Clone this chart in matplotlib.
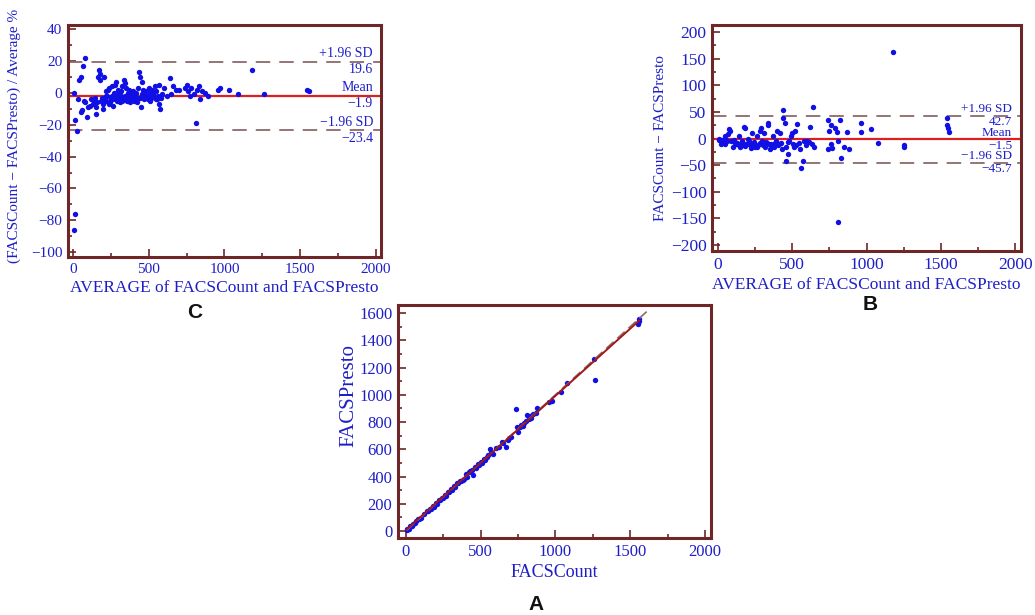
import numpy as np
import matplotlib
matplotlib.use("Agg")
import matplotlib.pyplot as plt
from matplotlib.ticker import MultipleLocator

# ---- panel C: percent difference vs average ----
c_avg = [5, 8, 15, 12, 25, 30, 40, 50, 55, 60, 65, 70, 77, 80, 90, 100, 110, 120, 140, 150,
         155, 160, 165, 170, 175, 180, 190, 195, 200, 205, 210, 215, 220, 225, 230, 235, 240, 245, 250, 255,
         260, 265, 270, 275, 280, 285, 290, 295, 300, 305, 310, 315, 320, 325, 330, 335, 340, 345, 350, 355,
         360, 365, 370, 375, 380, 390, 395, 400, 410, 415, 420, 430, 435, 440, 445, 450, 455, 460, 465, 470,
         480, 490, 500, 505, 510, 515, 520, 530, 540, 545, 550, 560, 565, 570, 575, 580, 590, 600, 620, 640,
         650, 660, 680, 700, 740, 750, 760, 770, 780, 800, 810, 820, 830, 840, 850, 870, 890, 960, 970, 1030,
         1090, 1180, 1260, 1545, 1555, 135, 145, 185, 215, 245, 265, 285, 305, 325, 345, 365, 385, 405, 425, 455,
         475, 495, 515, 535, 555]
c_pct = [0, -86, -76, -17, -24, -4, 8, -12, 10, -11, 17, -5, 22, -6, -15, -9, -8, -4, -6, -9,
         -13, -6, 10, 14, 8, 12, -3, -7, -10, 10, -4, 1, -5, -2, 2, -7, 3, -5, -3, 4,
         -2, -8, 0, 5, -3, 7, -5, -1, 2, -4, -6, 1, -2, 4, -4, 8, 6, -3, 3, -5,
         0, -2, 2, -6, -1, -3, 1, -4, -2, 0, -6, 3, 13, 10, -3, -9, 7, -1, 2, -4,
         1, -2, 3, -5, 0, -3, 2, -1, 4, -4, 1, -2, 5, -7, -10, -3, -1, 3, -2, 9,
         -1, 4, 2, 2, 3, 5, 1, -2, 3, -1, -19, 2, 4, -4, 1, 0, -2, 2, 3, 2,
         -1, 14, -1, 2, 1, -7, -3, -5, -2, -6, -4, -1, -3, -5, -2, -4, -2, -5, -3, -1,
         -2, -4, -3, -2, -4]
c_mean, c_hi, c_lo = -1.9, 19.6, -23.4

# ---- panel B: absolute difference vs average ----
b_avg = [5, 10, 20, 30, 40, 50, 60, 70, 75, 80, 90, 100, 110, 120, 130, 140, 150, 160, 170, 175,
         180, 190, 200, 210, 220, 230, 240, 250, 260, 270, 280, 290, 300, 310, 320, 330, 335, 340, 350, 360,
         370, 380, 390, 400, 410, 420, 430, 440, 440, 450, 460, 470, 480, 490, 500, 510, 520, 530, 550, 560,
         570, 580, 600, 620, 630, 640, 650, 740, 740, 750, 760, 760, 770, 790, 800, 810, 820, 830, 850, 870,
         880, 960, 965, 1030, 1080, 1250, 1255, 1540, 1545, 1550, 1555, 1180, 810, 115, 145, 165, 185, 205, 225, 245,
         265, 285, 305, 325, 345, 365, 385, 405, 425, 455, 475, 505, 525, 545, 590, 610, 25, 35, 45, 55]
b_diff = [0, -3, -10, -2, -8, 5, -5, 8, 18, 15, -5, -15, -3, -10, -8, 5, -15, -5, -12, 22,
          20, -10, 0, -5, -18, 10, -8, -15, 5, -12, 15, 20, -5, 10, -15, -8, 25, 30, -20, -10,
          5, -15, -5, 15, -10, 10, -20, 53, 38, 30, -42, -30, -5, 5, 10, -15, 15, 28, -20, -55,
          -43, -5, -5, 22, -10, 60, -15, 35, -20, 15, 25, -10, -18, 20, 12, -5, 35, -37, -15, 12,
          -20, 12, 30, 17, -8, -12, -15, 38, 25, 20, 12, 163, -156, -8, -12, -6, -14, -10, -12, -7,
          -15, -9, -13, -6, -11, -14, -8, -12, -9, -16, -7, -10, -13, -8, -12, -6, -6, -4, -11, -2]
b_mean, b_hi, b_lo = -1.5, 42.7, -45.7

# ---- panel A: FACSPresto vs FACSCount ----
a_count = [5, 10, 20, 30, 40, 50, 60, 70, 80, 90, 100, 120, 140, 150, 160, 170, 180, 190, 200, 210,
           220, 230, 240, 250, 260, 270, 280, 290, 300, 310, 320, 330, 340, 350, 360, 370, 380, 390, 400, 410,
           420, 430, 440, 450, 460, 470, 480, 490, 500, 510, 520, 530, 540, 550, 560, 570, 580, 600, 620, 640,
           650, 670, 680, 690, 700, 735, 740, 750, 760, 770, 780, 790, 800, 810, 820, 830, 840, 850, 870, 880,
           960, 980, 1040, 1080, 1255, 1265, 1555, 1560, 1560, 1555]
a_presto = [5, 12, 18, 35, 40, 55, 58, 72, 90, 85, 98, 125, 150, 145, 165, 160, 185, 180, 205, 195,
            230, 225, 245, 240, 265, 255, 290, 285, 305, 300, 330, 325, 350, 355, 370, 365, 375, 385, 415, 400,
            430, 440, 445, 410, 470, 465, 490, 485, 510, 500, 530, 520, 545, 560, 600, 575, 565, 610, 620, 650,
            645, 620, 670, 680, 690, 895, 760, 730, 760, 775, 770, 790, 810, 850, 820, 845, 830, 860, 865, 900,
            950, 955, 1020, 1090, 1265, 1105, 1520, 1540, 1555, 1530]

BLUE = "#1e1ec8"
DOT = "#1010e6"
FRAME = "#6e2626"
DASH = "#8c6a6a"
RED = "#dd1f1f"
SERIF = "Liberation Serif"

fig = plt.figure(figsize=(10.35, 6.15), dpi=100)


def style_axes(ax, xmaj, xmin, ymaj, ymin, fs):
    for s in ax.spines.values():
        s.set_color(FRAME)
        s.set_linewidth(2.2)
    ax.xaxis.set_major_locator(MultipleLocator(xmaj))
    ax.xaxis.set_minor_locator(MultipleLocator(xmin))
    ax.yaxis.set_major_locator(MultipleLocator(ymaj))
    ax.yaxis.set_minor_locator(MultipleLocator(ymin))
    ax.tick_params(which="both", direction="in", color=FRAME, width=1.2,
                   top=False, right=False)
    ax.tick_params(which="major", length=6, labelsize=fs, labelcolor=BLUE, pad=4)
    ax.tick_params(which="minor", length=3)
    for lab in ax.get_xticklabels() + ax.get_yticklabels():
        lab.set_fontfamily(SERIF)


def ba_lines(ax, mean, hi, lo, xr, dy, fs):
    ax.axhline(hi, color=DASH, lw=1.3, dashes=(8, 5))
    ax.axhline(lo, color=DASH, lw=1.3, dashes=(8, 5))
    ax.axhline(mean, color=RED, lw=1.6)
    kw = dict(ha="right", color=BLUE, family=SERIF, fontsize=fs)
    ax.text(xr, hi + dy * 0.25, "+1.96 SD", va="bottom", **kw)
    ax.text(xr, hi - dy * 0.25, f"{hi:.1f}".replace("-", "\u2212"), va="top", **kw)
    ax.text(xr, mean + dy * 0.25, "Mean", va="bottom", **kw)
    ax.text(xr, mean - dy * 0.25, f"{mean:.1f}".replace("-", "\u2212"), va="top", **kw)
    ax.text(xr, lo + dy * 0.25, "\u22121.96 SD", va="bottom", **kw)
    ax.text(xr, lo - dy * 0.25, f"{lo:.1f}".replace("-", "\u2212"), va="top", **kw)


def lab(size):
    return dict(color=BLUE, family=SERIF, fontsize=size)


# C
axc = fig.add_axes([0.0657, 0.5821, 0.3024, 0.3772])
axc.scatter(c_avg, c_pct, s=15, color=DOT, zorder=3, linewidths=0)
ba_lines(axc, c_mean, c_hi, c_lo, 1980, 4, 10)
axc.set_xlim(-33, 2033)
axc.set_ylim(-103, 42.5)
style_axes(axc, 500, 250, 20, 10, 11)
axc.set_xlabel("AVERAGE of FACSCount and FACSPresto", labelpad=3, **lab(12.5))
axc.set_ylabel("(FACSCount \u2212 FACSPresto) / Average %", **lab(11))
axc.yaxis.set_label_coords(-0.15, 0.52)

# B
axb = fig.add_axes([0.6879, 0.5919, 0.2986, 0.3675])
axb.scatter(b_avg, b_diff, s=15, color=DOT, zorder=3, linewidths=0)
ba_lines(axb, b_mean, b_hi, b_lo, 1980, 4, 9.5)
axb.set_xlim(-40, 2040)
axb.set_ylim(-211, 213)
style_axes(axb, 500, 250, 50, 25, 12.5)
axb.set_xlabel("AVERAGE of FACSCount and FACSPresto", labelpad=3, **lab(12.5))
axb.set_ylabel("FACSCount \u2212 FACSPresto", **lab(11))
axb.yaxis.set_label_coords(-0.146, 0.5)

# A
axa = fig.add_axes([0.3845, 0.1252, 0.3024, 0.3789])
axa.scatter(a_count, a_presto, s=15, color=DOT, zorder=3, linewidths=0)
xs = np.array([min(a_count), max(a_count) + 50])
axa.plot(xs, xs, color=DASH, lw=1.2, dashes=(6, 3), zorder=4)
k, b0 = np.polyfit(a_count, a_presto, 1)
xf = np.array([min(a_count), max(a_count)])
axa.plot(xf, k * xf + b0, color="#a01818", lw=1.4, zorder=4)
axa.set_xlim(-53, 2040)
axa.set_ylim(-51, 1659)
style_axes(axa, 500, 250, 200, 100, 12)
axa.set_xlabel("FACSCount", labelpad=3, **lab(13))
axa.set_ylabel("FACSPresto", **lab(15))
axa.yaxis.set_label_coords(-0.125, 0.61)

panel_kw = dict(fontsize=15, fontweight="bold", family="Liberation Sans",
                ha="center", va="center", color="#111111")
fig.text(195 / 1035, 1 - 312 / 615, "C", **panel_kw)
fig.text(870 / 1035, 1 - 305 / 615, "B", **panel_kw)
fig.text(536 / 1035, 1 - 604 / 615, "A", **panel_kw)

fig.savefig("out.png", dpi=100)
